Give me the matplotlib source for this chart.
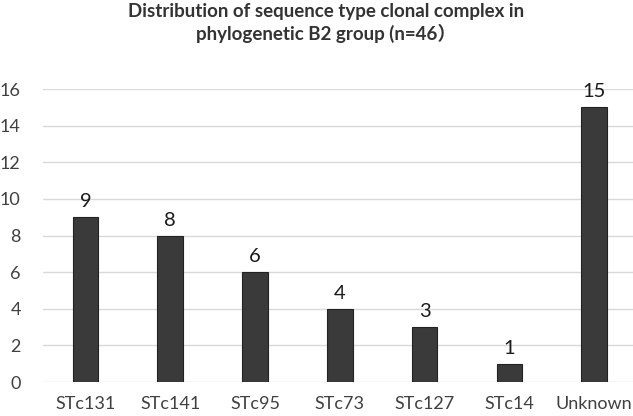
import matplotlib
matplotlib.use("Agg")
import matplotlib.pyplot as plt

categories = ["STc131", "STc141", "STc95", "STc73", "STc127", "STc14", "Unknown"]
counts = [9, 8, 6, 4, 3, 1, 15]
yticks = [0, 2, 4, 6, 8, 10, 12, 14, 16]
title = "Distribution of sequence type clonal complex in\nphylogenetic B2 group (n=46\uff09"

plt.rcParams['font.family'] = ['Lato', 'Noto Sans CJK SC', 'DejaVu Sans']

fig = plt.figure(figsize=(6.33, 4.16), dpi=100)
ax = fig.add_axes([0.0679, 0.0817, 0.9376, 0.7043])

x = list(range(len(categories)))
ax.bar(x, counts, width=0.302, color="#3a3a3a", edgecolor="#222222", linewidth=0.8, zorder=3)
for xi, v in zip(x, counts):
    ax.annotate(str(v), (xi, v), xytext=(0, 5), textcoords="offset points",
                ha="center", va="bottom", fontsize=14.5, color="#1a1a1a")

ax.set_xlim(-0.5, len(categories) - 0.5)
ax.set_ylim(0, 16)
ax.set_yticks(yticks)
ax.set_xticks(x)
ax.set_xticklabels(categories)
ax.yaxis.grid(True, color="#d9d9d9", linewidth=1.0, zorder=0)
for s in ax.spines.values():
    s.set_visible(False)
ax.tick_params(axis="y", length=0, pad=16, labelsize=13, labelcolor="#404040")
ax.tick_params(axis="x", length=0, pad=10, labelsize=13, labelcolor="#404040")

fig.text(0.515, 0.993, title, ha="center", va="top", fontsize=13.5,
         fontweight="bold", color="#333333", linespacing=1.25)

fig.savefig("out.png", dpi=100)
